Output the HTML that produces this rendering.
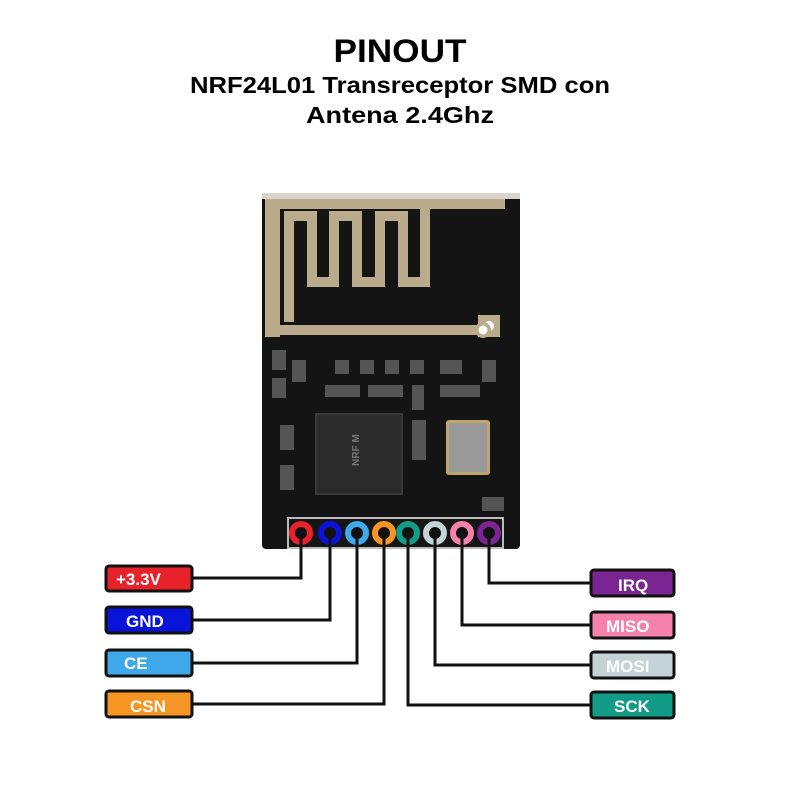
<!DOCTYPE html>
<html><head><meta charset="utf-8"><style>
html,body{margin:0;padding:0;background:#fff;width:800px;height:800px;overflow:hidden}
svg{display:block}
text{font-family:"Liberation Sans",sans-serif;font-weight:bold}
</style></head><body>
<svg width="800" height="800" viewBox="0 0 800 800">
<rect width="800" height="800" fill="#fff"/>
<text x="400" y="62" text-anchor="middle" font-size="32" textLength="133" lengthAdjust="spacingAndGlyphs">PINOUT</text>
<text x="400" y="93" text-anchor="middle" font-size="23" textLength="420" lengthAdjust="spacingAndGlyphs">NRF24L01 Transreceptor SMD con</text>
<text x="400" y="123" text-anchor="middle" font-size="23" textLength="188" lengthAdjust="spacingAndGlyphs">Antena 2.4Ghz</text>

<!-- board -->
<rect x="262" y="193" width="258" height="356" rx="4" fill="#141414"/>
<rect x="262" y="193" width="258" height="6" fill="#d8d4cc"/>
<!-- antenna -->
<rect x="265" y="199" width="240" height="10" fill="#b9ab8c"/>
<rect x="265" y="199" width="15" height="138" fill="#b9ab8c"/>
<g fill="none" stroke="#b9ab8c" stroke-width="10" stroke-linejoin="miter">
<path d="M272 330 H480"/>
<path d="M289 322 V216 H312 V282 H334 V216 H357 V282 H380 V216 H403 V282 H425 V208"/>
</g>
<rect x="478" y="315" width="22" height="22" fill="#b9ab8c"/><circle cx="489" cy="326" r="5" fill="#fff"/>
<circle cx="483" cy="330" r="8" fill="#b9ab8c"/><circle cx="483" cy="330" r="4.5" fill="#fff"/>
<!-- components -->
<g fill="#555">
<rect x="292" y="360" width="14" height="22"/><rect x="335" y="360" width="14" height="14"/><rect x="360" y="360" width="14" height="14"/><rect x="385" y="360" width="14" height="14"/><rect x="410" y="360" width="14" height="14"/><rect x="440" y="360" width="22" height="14"/><rect x="482" y="360" width="14" height="22"/>
<rect x="325" y="385" width="35" height="12"/><rect x="368" y="385" width="35" height="12"/><rect x="440" y="385" width="40" height="12"/><rect x="412" y="385" width="12" height="25"/>
<rect x="272" y="350" width="14" height="20"/><rect x="272" y="378" width="14" height="20"/>
<rect x="280" y="425" width="14" height="25"/><rect x="280" y="465" width="14" height="25"/>
<rect x="482" y="497" width="22" height="14"/><rect x="412" y="420" width="14" height="40"/>
</g>
<rect x="316" y="414" width="86" height="80" fill="#2a2a2a" stroke="#3a3a3a" stroke-width="2"/>
<text x="359" y="450" text-anchor="middle" font-size="10" fill="#777" font-weight="normal" transform="rotate(-90 359 450)">NRF M</text>
<rect x="446" y="420" width="44" height="55" rx="3" fill="#bfa56b"/>
<rect x="449" y="423" width="38" height="49" fill="#9a9a9a"/>
<rect x="288" y="518" width="215" height="30" fill="#151515" stroke="#bbb" stroke-width="2"/>
<text x="293" y="543" font-size="14" fill="#ccc">1</text>

<!-- pins -->
<g stroke-width="6" fill="#111">
<circle cx="301" cy="533" r="9" stroke="#e8222a"/>
<circle cx="330" cy="533" r="9" stroke="#0a14d8"/>
<circle cx="357" cy="533" r="9" stroke="#3fa8ea"/>
<circle cx="384" cy="533" r="9" stroke="#f59624"/>
<circle cx="408" cy="533" r="9" stroke="#129b86"/>
<circle cx="435" cy="533" r="9" stroke="#c3d3d6"/>
<circle cx="462" cy="533" r="9" stroke="#f482aa"/>
<circle cx="489" cy="533" r="9" stroke="#7b2593"/>
</g>
<!-- lines -->
<g fill="none" stroke="#111" stroke-width="3">
<path d="M301 533 V578 H192"/>
<path d="M330 533 V620 H192"/>
<path d="M357 533 V663 H192"/>
<path d="M384 533 V704 H192"/>
<path d="M489 533 V583 H591"/>
<path d="M462 533 V625 H591"/>
<path d="M435 533 V665 H591"/>
<path d="M408 533 V705 H591"/>
</g>
<!-- labels -->
<g stroke="#111" stroke-width="3">
<rect x="106" y="566" width="86" height="25" rx="3" fill="#e8222a"/>
<rect x="106" y="607" width="86" height="26" rx="3" fill="#0a14d8"/>
<rect x="106" y="650" width="86" height="26" rx="3" fill="#3fa8ea"/>
<rect x="106" y="691" width="86" height="26" rx="3" fill="#f59624"/>
<rect x="591" y="570" width="83" height="26" rx="3" fill="#7b2593"/>
<rect x="591" y="612" width="83" height="26" rx="3" fill="#f482aa"/>
<rect x="591" y="652" width="83" height="26" rx="3" fill="#c3d3d6"/>
<rect x="591" y="692" width="83" height="26" rx="3" fill="#129b86"/>
</g>
<g fill="#fff" font-size="17">
<text x="116" y="585">+3.3V</text>
<text x="126" y="627">GND</text>
<text x="124" y="669">CE</text>
<text x="130" y="712">CSN</text>
<text x="618" y="591">IRQ</text>
<text x="606" y="632">MISO</text>
<text x="606" y="672">MOSI</text>
<text x="614" y="712">SCK</text>
</g>
</svg>
</body></html>
